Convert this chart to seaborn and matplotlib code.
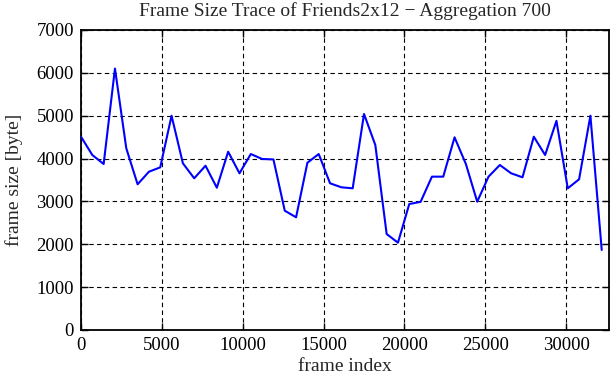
import matplotlib
matplotlib.use("Agg")
import matplotlib.pyplot as plt
import seaborn as sns
import pandas as pd

frame_index = [0, 700, 1400, 2100, 2800, 3500, 4200, 4900, 5600, 6300,
               7000, 7700, 8400, 9100, 9800, 10500, 11200, 11900, 12600, 13300,
               14000, 14700, 15400, 16100, 16800, 17500, 18200, 18900, 19600, 20300,
               21000, 21700, 22400, 23100, 23800, 24500, 25200, 25900, 26600, 27300,
               28000, 28700, 29400, 30100, 30800, 31500, 32200]
frame_size = [4510, 4083, 3873, 6100, 4240, 3400, 3693, 3795, 5000, 3890,
              3540, 3833, 3320, 4160, 3656, 4106, 3990, 3980, 2784, 2630,
              3903, 4106, 3423, 3330, 3306, 5040, 4316, 2240, 2037, 2940,
              2990, 3578, 3578, 4496, 3873, 2994, 3578, 3850, 3656, 3563,
              4510, 4083, 4880, 3306, 3516, 5000, 1867]
x_ticks = [0, 5000, 10000, 15000, 20000, 25000, 30000]
y_ticks = [0, 1000, 2000, 3000, 4000, 5000, 6000, 7000]

sns.set_style("ticks")
plt.rcParams['font.family'] = ['Liberation Serif', 'DejaVu Serif']

df = pd.DataFrame({"frame index": frame_index, "frame size": frame_size})

fig = plt.figure(figsize=(6.11, 3.80), dpi=100)
ax = fig.add_axes([81/611, 1-330/380, 528/611, 300/380])

sns.lineplot(data=df, x="frame index", y="frame size", ax=ax,
             color=(0, 0, 1), linewidth=1.5, zorder=3)

ax.set_xlim(0, 32650)
ax.set_ylim(0, 7000)
ax.set_xticks(x_ticks)
ax.set_yticks(y_ticks)
ax.grid(True, color='black', linestyle=(0, (4, 3)), linewidth=0.8)
for s in ax.spines.values():
    s.set_visible(True)
    s.set_color('black')
    s.set_linewidth(1.3)
ax.tick_params(direction='in', length=5, width=1, colors='black',
               labelsize=13.5, top=True, right=True, pad=5)
ax.set_xlabel("frame index", fontsize=14, labelpad=3)
ax.set_ylabel("frame size [byte]", fontsize=14, labelpad=10)
ax.set_title("Frame Size Trace of Friends2x12 \u2212 Aggregation 700",
             fontsize=14, pad=10)

fig.savefig("out.png", dpi=100)
